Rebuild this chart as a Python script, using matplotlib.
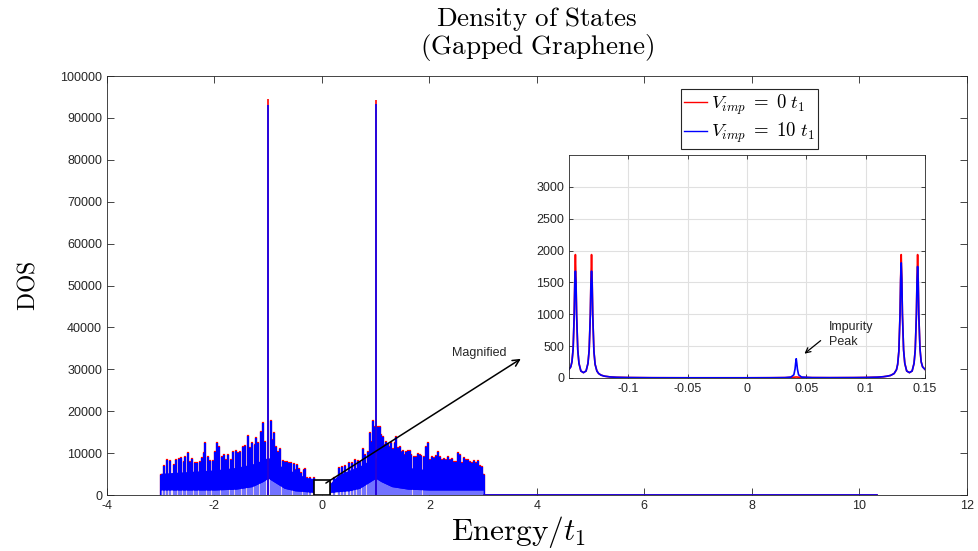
import matplotlib
matplotlib.use("Agg")
import matplotlib.pyplot as plt
from matplotlib.lines import Line2D
from matplotlib.patches import Rectangle

plt.rcParams['font.family'] = ['Liberation Sans', 'DejaVu Sans']
plt.rcParams['mathtext.fontset'] = 'cm'
plt.rcParams['axes.unicode_minus'] = False

# ---- main panel: spikes of the DOS band ----
left_E = [-2.991, -2.948, -2.886, -2.824, -2.762, -2.712, -2.669, -2.619, -2.576, -2.545,
          -2.501, -2.464, -2.421, -2.371, -2.328, -2.278, -2.235, -2.204, -2.173, -2.129,
          -2.080, -2.030, -1.987, -1.956, -1.912, -1.863, -1.819, -1.782, -1.739, -1.689,
          -1.646, -1.608, -1.571, -1.522, -1.472, -1.429, -1.385, -1.336, -1.298, -1.255,
          -1.224, -1.181, -1.137, -1.106, -1.069, -0.957, -0.920, -0.889, -0.858, -0.821,
          -0.777, -0.728, -0.691, -0.653, -0.610, -0.579, -0.529, -0.492, -0.467, -0.424,
          -0.393, -0.343, -0.312, -0.269, -0.219, -0.157]
left_top = [4774, 6922, 8355, 8116, 7161, 8355, 8593, 8912, 7957, 8991,
            9946, 7957, 8593, 7559, 7718, 7957, 8752, 10105, 12492, 9150,
            8196, 8196, 10344, 12330, 11537, 9150, 9548, 8355, 9548, 8355,
            10344, 10583, 9946, 10344, 11537, 11696, 14083, 11139, 12330, 11935,
            13526, 12330, 14958, 17105, 12730, 17741, 13129, 14720, 11537, 10344,
            10901, 8196, 7957, 7957, 7718, 7559, 7400, 5968, 7161, 6127,
            5331, 5968, 6286, 3978, 4137, 3978]

right_E = [0.154, 0.216, 0.309, 0.371, 0.434, 0.495, 0.558, 0.620, 0.663, 0.713,
           0.762, 0.806, 0.849, 0.886, 0.917, 0.948, 0.979, 1.042, 1.072, 1.103,
           1.134, 1.165, 1.196, 1.227, 1.258, 1.289, 1.320, 1.351, 1.382, 1.413,
           1.444, 1.475, 1.506, 1.537, 1.568, 1.599, 1.630, 1.661, 1.705, 1.742,
           1.779, 1.816, 1.847, 1.891, 1.928, 1.965, 2.002, 2.040, 2.077, 2.114,
           2.151, 2.188, 2.226, 2.263, 2.300, 2.337, 2.375, 2.412, 2.449, 2.486,
           2.523, 2.561, 2.598, 2.635, 2.672, 2.709, 2.747, 2.784, 2.821, 2.858,
           2.895, 2.933, 2.970, 3.007]
right_top = [2785, 3979, 6366, 6604, 6922, 7559, 7718, 8355, 8116, 7957,
             10902, 9548, 10344, 14720, 12731, 17741, 16311, 16311, 16311, 14322,
             13925, 11935, 12731, 12174, 11537, 12333, 10902, 12333, 13925, 11139,
             11537, 10344, 10583, 9548, 10344, 10583, 10503, 9548, 9150, 8991,
             9787, 9548, 9309, 9150, 11537, 12333, 8355, 9150, 8752, 9309,
             10344, 9150, 8355, 8514, 8355, 8991, 8355, 8514, 7957, 7957,
             9946, 9548, 7718, 8752, 8355, 8355, 7877, 7718, 8116, 7559,
             8196, 6922, 6763, 4774]

# dense body of the band (lower / upper edge)
body_E_left = [-3.0, -2.5, -2.0, -1.6, -1.3, -1.1, -1.0, -0.9, -0.7, -0.5, -0.3, -0.16]
body_lo_left = [1200, 1200, 1200, 1400, 2000, 3200, 4000, 3200, 1600, 1000, 800, 600]
body_hi_left = [5200, 5600, 6000, 6600, 7400, 8400, 9000, 8000, 6400, 5400, 4200, 3900]
body_E_right = [0.16, 0.3, 0.5, 0.7, 0.9, 1.0, 1.1, 1.3, 1.6, 2.0, 2.5, 3.0]
body_lo_right = [600, 800, 1000, 1600, 3200, 4000, 3200, 2000, 1400, 1200, 1200, 1200]
body_hi_right = [2900, 4800, 5900, 6900, 8400, 9000, 8400, 7400, 6600, 6000, 5600, 5200]

# the two van Hove peaks
peak_E = [-1.0, 1.0]
peak_red = [94500, 94300]
peak_blue = [93000, 93300]

# flat tail above the band
tail_E = [3.007, 10.33]
tail_dos = [0, 0]

# ---- inset: zoom on the gap ----
inset_E = [-0.1500, -0.1485, -0.1475, -0.1465, -0.1456, -0.1451, -0.1446, -0.1441, -0.1436, -0.1426,
           -0.1416, -0.1400, -0.1378, -0.1356, -0.1340, -0.1330, -0.1320, -0.1315, -0.1310, -0.1305,
           -0.1300, -0.1290, -0.1280, -0.1265, -0.1250, -0.1230, -0.1200, -0.1150, -0.1100, -0.1000,
           -0.0800, -0.0500, -0.0200, 0.0000, 0.0200, 0.0320, 0.0370, 0.0395, 0.0405, 0.0410,
           0.0415, 0.0420, 0.0425, 0.0435, 0.0460, 0.0550, 0.0700, 0.0900, 0.1000, 0.1100,
           0.1150, 0.1180, 0.1210, 0.1240, 0.1260, 0.1270, 0.1280, 0.1290, 0.1295, 0.1300,
           0.1305, 0.1310, 0.1320, 0.1330, 0.1346, 0.1369, 0.1392, 0.1408, 0.1418, 0.1428,
           0.1433, 0.1438, 0.1443, 0.1448, 0.1458, 0.1468, 0.1480, 0.1500]
inset_red = [135, 175, 255, 460, 1000, 1560, 1937, 1560, 1000, 440,
             230, 110, 84, 110, 230, 440, 1000, 1560, 1937, 1560,
             1000, 420, 215, 110, 70, 45, 28, 16, 11, 7,
             4, 3, 3, 3, 4, 6, 10, 12, 14, 15,
             16, 15, 14, 12, 10, 6, 5, 6, 8, 13,
             20, 28, 40, 70, 130, 215, 420, 1000, 1560, 1937,
             1560, 1000, 440, 230, 110, 84, 110, 230, 440, 1000,
             1560, 1937, 1560, 1000, 460, 255, 175, 135]
inset_blue = [135, 175, 255, 460, 1000, 1500, 1677, 1500, 1000, 440,
              230, 110, 84, 110, 230, 440, 1000, 1500, 1677, 1500,
              1000, 420, 215, 110, 70, 45, 28, 16, 11, 7,
              4, 3, 3, 3, 4, 6, 14, 50, 140, 230,
              302, 230, 140, 50, 14, 6, 5, 6, 8, 13,
              20, 28, 40, 70, 130, 215, 420, 1000, 1540, 1807,
              1540, 1000, 440, 230, 110, 84, 110, 230, 440, 1000,
              1520, 1750, 1520, 1000, 460, 255, 175, 135]

inset_xticks = [-0.1, -0.05, 0, 0.05, 0.1, 0.15]
inset_xlabels = ['-0.1', '-0.05', '0', '0.05', '0.1', '0.15']
inset_yticks = [0, 500, 1000, 1500, 2000, 2500, 3000]

axcol = '0.15'
lw = 1.2

fig = plt.figure(figsize=(9.79, 5.51), dpi=100)
ax = fig.add_axes([0.1093, 0.1016, 0.8782, 0.7604])

for E, top in [(left_E, left_top), (right_E, right_top)]:
    ax.vlines(E, 0, top, colors='red', lw=1.6, capstyle='projecting', zorder=1.9)
    ax.vlines(E, 0, top, colors='blue', lw=1.6, capstyle='butt', zorder=2)
for E, lo, hi in [(body_E_left, body_lo_left, body_hi_left),
                  (body_E_right, body_lo_right, body_hi_right)]:
    ax.fill_between(E, 0, lo, color='white', alpha=0.45, lw=0, zorder=2.05)
    ax.fill_between(E, lo, hi, color='blue', lw=0, zorder=2.1)
ax.vlines(peak_E, 0, peak_red, colors='red', lw=lw, zorder=2.2)
ax.vlines(peak_E, 0, peak_blue, colors='blue', lw=lw, zorder=2.3)
ax.plot(tail_E, tail_dos, color='red', lw=lw, zorder=2)
ax.plot(tail_E, tail_dos, color='blue', lw=lw, zorder=2.1)

ax.set_xlim(-4, 12)
ax.set_ylim(0, 100000)
ax.set_xticks(range(-4, 13, 2))
ax.set_yticks(range(0, 100001, 10000))
ax.ticklabel_format(axis='y', style='plain', useOffset=False)
ax.tick_params(direction='in', length=5, width=0.6, top=True, right=True,
               labelsize=9, colors=axcol)
for s in ax.spines.values():
    s.set_color(axcol)
    s.set_linewidth(0.6)

ax.set_title(r'$\mathrm{Density\ of\ States}$' + '\n' + r'$\mathrm{(Gapped\ Graphene)}$',
             fontsize=19.5, pad=16, color='black', linespacing=0.95)
ax.set_xlabel(r'$\mathrm{Energy}/t_1$', fontsize=22.5)
ax.xaxis.set_label_coords(0.478, -0.045)
ax.set_ylabel(r'$\mathrm{DOS}$', fontsize=17, labelpad=15)

ax.add_patch(Rectangle((-0.15, 0), 0.3, 3500, facecolor='white', edgecolor='black',
                       lw=1.2, zorder=5))
ax.annotate('', xy=(3.745, 32860), xytext=(0.03, 2500),
            arrowprops=dict(arrowstyle='->', color='black', lw=1.1, mutation_scale=12),
            zorder=6)
ax.text(2.93, 34000, 'Magnified', ha='center', va='center', fontsize=9, color=axcol)

handles = [Line2D([], [], color='red', lw=1), Line2D([], [], color='blue', lw=1)]
leg = ax.legend(handles, [r'$V_{imp}\;=\;0\ t_1$', r'$V_{imp}\;=\;10\ t_1$'],
                loc='upper center', bbox_to_anchor=(0.747, 0.969), fontsize=13.5,
                frameon=True, fancybox=False, framealpha=1, edgecolor=axcol,
                handlelength=1.2, handletextpad=0.2, labelspacing=0.2,
                borderpad=0.2, borderaxespad=0)
leg.get_frame().set_linewidth(0.8)

# inset
axin = fig.add_axes([0.5812, 0.3140, 0.3636, 0.4047])
axin.plot(inset_E, inset_red, color='red', lw=lw)
axin.plot(inset_E, inset_blue, color='blue', lw=lw)
axin.set_xlim(-0.15, 0.15)
axin.set_ylim(0, 3500)
axin.set_xticks(inset_xticks)
axin.set_xticklabels(inset_xlabels)
axin.set_yticks(inset_yticks)
axin.grid(True, color='0.88', lw=0.8)
axin.set_axisbelow(True)
axin.tick_params(direction='in', length=3, width=0.6, top=True, right=True,
                 labelsize=9, colors=axcol)
for s in axin.spines.values():
    s.set_color(axcol)
    s.set_linewidth(0.6)
axin.annotate('', xy=(0.0466, 354), xytext=(0.0639, 614),
              arrowprops=dict(arrowstyle='->', color='black', lw=0.9, mutation_scale=9))
axin.text(0.0692, 680, 'Impurity\nPeak', ha='left', va='center', fontsize=9,
          linespacing=1.3, color=axcol)

fig.savefig('out.png', dpi=100)
